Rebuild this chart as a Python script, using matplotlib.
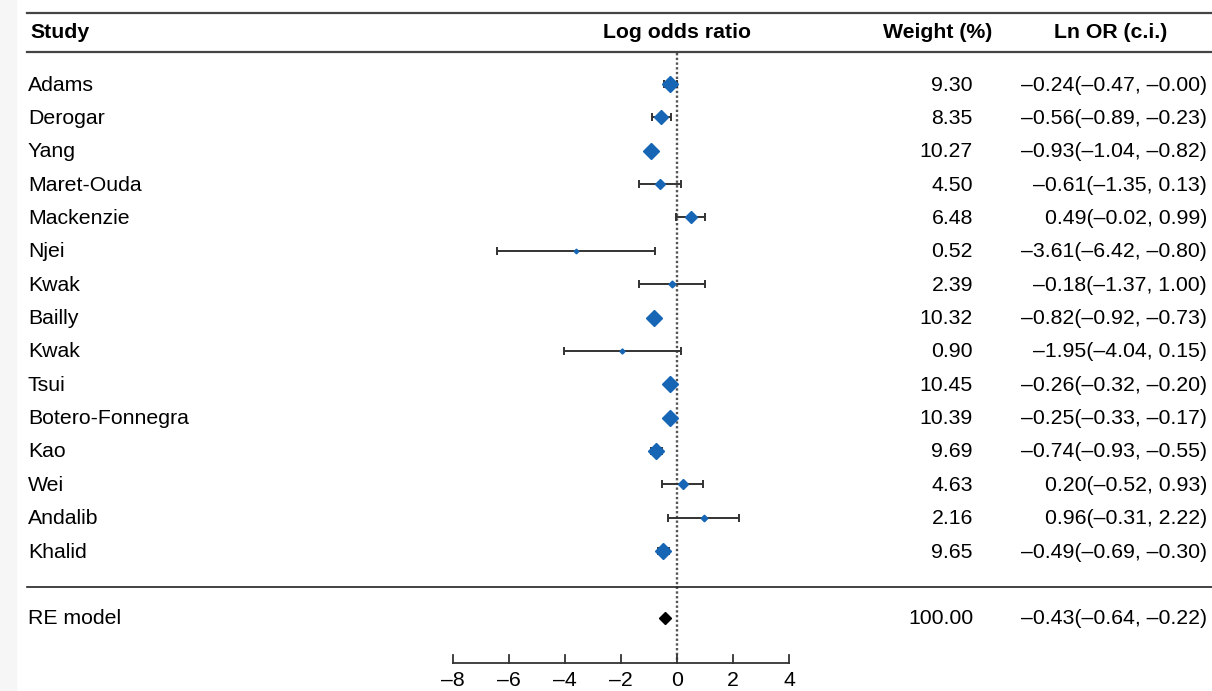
import numpy as np
import matplotlib.pyplot as plt
import matplotlib.transforms as mtransforms

plt.rcParams['font.family'] = ['Liberation Sans', 'DejaVu Sans']

# dane
studies = ['Adams', 'Derogar', 'Yang', 'Maret-Ouda', 'Mackenzie', 'Njei', 'Kwak',
           'Bailly', 'Kwak', 'Tsui', 'Botero-Fonnegra', 'Kao', 'Wei', 'Andalib', 'Khalid']
est = [-0.24, -0.56, -0.93, -0.61, 0.49, -3.61, -0.18, -0.82, -1.95, -0.26, -0.25, -0.74, 0.20, 0.96, -0.49]
lo = [-0.47, -0.89, -1.04, -1.35, -0.02, -6.42, -1.37, -0.92, -4.04, -0.32, -0.33, -0.93, -0.52, -0.31, -0.69]
hi = [-0.0, -0.23, -0.82, 0.13, 0.99, -0.80, 1.00, -0.73, 0.15, -0.20, -0.17, -0.55, 0.93, 2.22, -0.30]
weights = [9.30, 8.35, 10.27, 4.50, 6.48, 0.52, 2.39, 10.32, 0.90, 10.45, 10.39, 9.69, 4.63, 2.16, 9.65]

re_est, re_lo, re_hi, re_w = -0.43, -0.64, -0.22, 100.00
ticks = [-8, -6, -4, -2, 0, 2, 4]

blue = '#1666b5'


def fmt(v):
    return f'{v:.2f}'.replace('-', '\u2013')


W, H = 1212, 691
fig = plt.figure(figsize=(W / 100, H / 100), dpi=100)
ax = fig.add_axes([0, 0, 1, 1])
ax.axis('off')

# piksel -> dane: x = 677 + 28*v, wiersz i na y = 84 + 33.36*i
x0, sx = 677, 28
y0, sy = 84, 33.36
ax.set_xlim(-x0 / sx, (W - x0) / sx)
ax.set_ylim((H - y0) / sy, -y0 / sy)


def py(p):
    return (p - y0) / sy


def px(p):
    return p / W


tr = mtransforms.blended_transform_factory(ax.transAxes, ax.transData)

# szary pasek z lewej
fig.patches.append(plt.Rectangle((0, 0), 16 / W, 1, transform=fig.transFigure,
                                 color='#f6f6f6', zorder=0))

fs = 15.3
n = len(studies)
rows = np.arange(n)
re_row = n + 1
dy = 0.03  # male przesuniecie tekstu w dol

# linie tabeli
ax.plot([px(27), 1], [py(13), py(13)], transform=tr, color='#444444', lw=1.6)
ax.plot([px(27), 1], [py(52), py(52)], transform=tr, color='#444444', lw=1.6)
ax.plot([px(27), 1], [py(587), py(587)], transform=tr, color='#222222', lw=1.2)

# naglowki
ax.text(px(30), py(33), 'Study', transform=tr, fontsize=fs, fontweight='bold', va='center')
ax.text(0, py(33), 'Log odds ratio', fontsize=fs, fontweight='bold', va='center', ha='center')
ax.text(px(992), py(33), 'Weight (%)', transform=tr, fontsize=fs, fontweight='bold',
        va='center', ha='right')
ax.text(px(1111), py(33), 'Ln OR (c.i.)', transform=tr, fontsize=fs, fontweight='bold',
        va='center', ha='center')

# linia zerowa
ax.plot([0, 0], [py(53), py(663)], color='#555555', lw=1.7, ls=(0, (1.0, 1.0)), zorder=1)

# przedzialy i romby
for i in range(n):
    ax.errorbar(est[i], rows[i], xerr=[[est[i] - lo[i]], [hi[i] - est[i]]], fmt='none',
                ecolor='#333333', elinewidth=1.4, capsize=3, capthick=1.4, zorder=2)
    d = 4 + 1.2 * weights[i]
    ax.plot(est[i], rows[i], marker='D', color=blue, ms=d / np.sqrt(2) * 0.72,
            mec=blue, zorder=3)
    ax.text(px(28), rows[i] + dy, studies[i], transform=tr, fontsize=fs, va='center')
    ax.text(px(973), rows[i] + dy, f'{weights[i]:.2f}', transform=tr, fontsize=fs,
            va='center', ha='right')
    ax.text(px(1207), rows[i] + dy, f'{fmt(est[i])}({fmt(lo[i])}, {fmt(hi[i])})', transform=tr,
            fontsize=fs, va='center', ha='right')

# model RE
ax.plot(re_est, re_row, marker='D', color='black', ms=13 / np.sqrt(2) * 0.72, zorder=3)
ax.text(px(28), re_row + dy, 'RE model', transform=tr, fontsize=fs, va='center')
ax.text(px(973), re_row + dy, f'{re_w:.2f}', transform=tr, fontsize=fs, va='center', ha='right')
ax.text(px(1207), re_row + dy, f'{fmt(re_est)}({fmt(re_lo)}, {fmt(re_hi)})', transform=tr,
        fontsize=fs, va='center', ha='right')

# os x
ax.plot([ticks[0], ticks[-1]], [py(663), py(663)], color='#333333', lw=1.3)
for t in ticks:
    ax.plot([t, t], [py(663), py(655)], color='#333333', lw=1.3)
    ax.text(t, py(681), str(t).replace('-', '\u2013'), fontsize=fs, ha='center', va='center')

fig.savefig('out.png', dpi=100)
